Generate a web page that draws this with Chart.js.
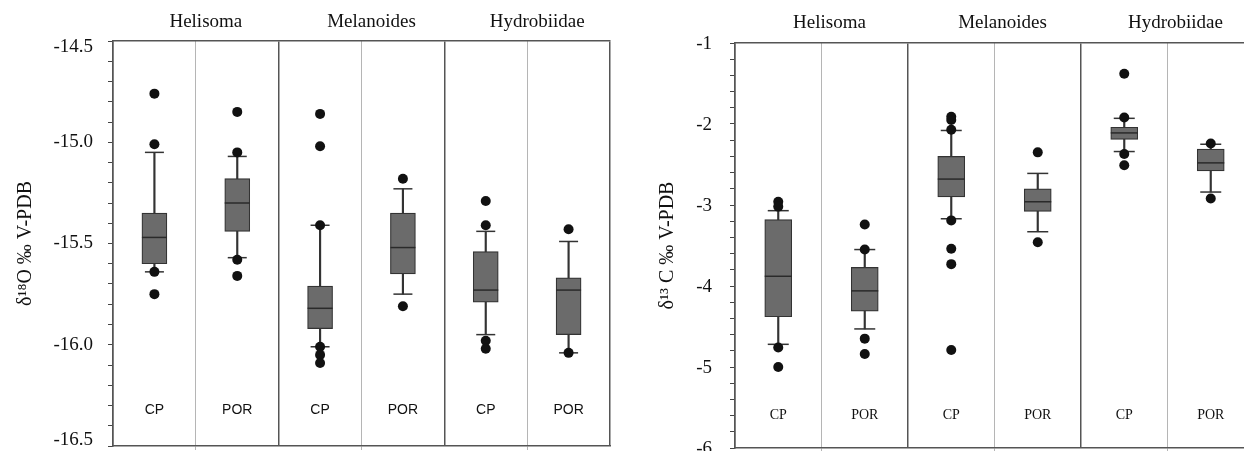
<!DOCTYPE html>
<html lang="en">
<head>
  <meta charset="UTF-8" />
  <title>Snail shell isotopes</title>
  <style>
    body {
      margin: 0;
      width: 1244px;
      height: 451px;
      overflow: hidden;
      background: white;
      position: relative;
    }
    .panel {
      position: absolute;
      top: 0;
      height: 451px;
    }
    #left { left: 0; width: 620px; }
    #right { left: 620px; width: 650px; }
  </style>
</head>
<body>
  <div class="panel" id="left"><canvas id="oxyChart"></canvas></div>
  <div class="panel" id="right"><canvas id="carbChart"></canvas></div>

  <script src="https://cdn.jsdelivr.net/npm/chart.js"></script>
  <script>
    const groups = ['Helisoma', 'Melanoides', 'Hydrobiidae'];
    const cats = ['Helisoma CP', 'Helisoma POR', 'Melanoides CP', 'Melanoides POR', 'Hydrobiidae CP', 'Hydrobiidae POR'];
    const sites = ['CP', 'POR', 'CP', 'POR', 'CP', 'POR'];

    // d18O panel
    const o18Low = [-15.64, -15.57, -16.01, -15.75, -15.95, -16.04];
    const o18Q1 = [-15.60, -15.44, -15.92, -15.65, -15.79, -15.95];
    const o18Median = [-15.47, -15.30, -15.82, -15.52, -15.73, -15.73];
    const o18Q3 = [-15.35, -15.18, -15.71, -15.35, -15.54, -15.67];
    const o18High = [-15.05, -15.07, -15.41, -15.23, -15.44, -15.49];
    const o18Outliers = [
      [-14.76, -15.01, -15.64, -15.75],
      [-14.85, -15.05, -15.58, -15.66],
      [-14.86, -15.02, -15.41, -16.01, -16.05, -16.09],
      [-15.18, -15.81],
      [-15.29, -15.41, -15.98, -16.02],
      [-15.43, -16.04]
    ];

    // d13C panel
    const c13Low = [-4.72, -4.53, -3.17, -3.33, -2.34, -2.84];
    const c13Q1 = [-4.38, -4.31, -2.90, -3.08, -2.19, -2.58];
    const c13Median = [-3.88, -4.06, -2.68, -2.96, -2.11, -2.48];
    const c13Q3 = [-3.18, -3.77, -2.40, -2.80, -2.04, -2.31];
    const c13High = [-3.07, -3.55, -2.08, -2.61, -1.93, -2.25];
    const c13Outliers = [
      [-2.96, -3.02, -4.76, -5.00],
      [-3.24, -3.55, -4.65, -4.84],
      [-1.91, -1.95, -2.07, -3.19, -3.54, -3.73, -4.79],
      [-2.35, -3.46],
      [-1.38, -1.92, -2.37, -2.51],
      [-2.24, -2.92]
    ];

    const frameColor = '#555';
    const serif = 'Liberation Serif';

    // the scale paddings would shrink the plot area, the sizes are fixed here instead
    function noPad(s) {
      s.paddingTop = 0; s.paddingBottom = 0; s.paddingLeft = 0; s.paddingRight = 0;
    }

    function makeChart(id, cfg) {
      const points = [];
      cfg.outliers.forEach((list, i) => list.forEach(v => points.push({ x: cats[i], y: v })));

      new Chart(document.getElementById(id), {
        type: 'bar',
        data: {
          labels: cats,
          datasets: [
            {
              data: cfg.low.map((v, i) => [v, cfg.high[i]]),
              backgroundColor: '#333',
              barThickness: 1.5,
              grouped: false,
              order: 5
            },
            {
              data: cfg.q1.map((v, i) => [v, cfg.q3[i]]),
              backgroundColor: '#6b6b6b',
              borderColor: '#333',
              borderWidth: 1.2,
              borderSkipped: false,
              barThickness: cfg.boxWidth,
              grouped: false,
              order: 4
            },
            {
              type: 'line', data: cfg.median, showLine: false,
              pointStyle: 'line', pointRadius: cfg.boxWidth / 2,
              borderColor: '#2a2a2a', borderWidth: 1.5, order: 3
            },
            {
              type: 'line', data: cfg.low, showLine: false,
              pointStyle: 'line', pointRadius: cfg.capWidth / 2,
              borderColor: '#333', borderWidth: 1.5, order: 3
            },
            {
              type: 'line', data: cfg.high, showLine: false,
              pointStyle: 'line', pointRadius: cfg.capWidth / 2,
              borderColor: '#333', borderWidth: 1.5, order: 3
            },
            {
              type: 'line', data: points, showLine: false,
              pointStyle: 'circle', pointRadius: 5,
              backgroundColor: '#111', borderWidth: 0, order: 1
            }
          ]
        },
        options: {
          responsive: true,
          maintainAspectRatio: false,
          animation: false,
          layout: { autoPadding: false, padding: { right: cfg.padRight } },
          plugins: { legend: { display: false }, tooltip: { enabled: false } },
          scales: {
            x: {
              position: 'bottom',
              offset: true,
              grid: {
                offset: true,
                color: ctx => ctx.index % 2 === 1 ? '#b5b5b5' : 'rgba(0,0,0,0)',
                lineWidth: 1,
                tickLength: 4
              },
              border: { color: frameColor, width: 1.5 },
              ticks: {
                autoSkip: false,
                mirror: true,   // draws the site names inside the frame
                maxRotation: 0,
                padding: cfg.sitePad,
                color: '#111',
                font: cfg.siteFont,
                callback: (v, i) => sites[i]
              },
              afterFit: s => { noPad(s); s.height = cfg.bottomH; }
            },
            x2: {
              type: 'category',
              position: 'top',
              labels: groups,
              offset: true,
              grid: { offset: true, color: frameColor, lineWidth: 1.5, drawTicks: false },
              border: { color: frameColor, width: 1.5 },
              ticks: {
                padding: cfg.groupPad,
                labelOffset: cfg.groupShift,
                color: '#111',
                font: { family: serif, size: 19 }
              },
              afterFit: s => { noPad(s); s.height = cfg.topH; }
            },
            y: {
              min: cfg.min,
              max: cfg.max,
              grid: { drawOnChartArea: false, color: '#444', tickLength: 5 },
              border: { color: frameColor, width: 1.5 },
              ticks: {
                stepSize: cfg.step,
                autoSkip: false,
                padding: cfg.tickPad,
                labelOffset: cfg.labelShift,
                color: '#111',
                font: { family: serif, size: 19, lineHeight: 0.6 },
                callback: cfg.fmt
              },
              title: {
                display: true,
                text: cfg.title,
                color: '#111',
                font: { family: serif, size: 20 },
                padding: { top: cfg.titlePad, bottom: 0 }
              },
              afterFit: s => { noPad(s); s.width = cfg.axisW; }
            }
          }
        }
      });
    }

    makeChart('oxyChart', {
      low: o18Low, q1: o18Q1, median: o18Median, q3: o18Q3, high: o18High, outliers: o18Outliers,
      min: -16.5, max: -14.5, step: 0.1,
      fmt: (v, i, ticks) => {
        const r = Math.round(v * 10) / 10;
        if (Math.abs(r * 2 - Math.round(r * 2)) > 1e-6) return '';
        const txt = r.toFixed(1);
        // end labels are pulled inside the frame
        if (i === 0) return [txt, ''];
        if (i === ticks.length - 1) return ['', txt];
        return txt;
      },
      title: 'δ¹⁸O ‰ V-PDB',
      boxWidth: 25, capWidth: 19, labelShift: 0,
      axisW: 113, topH: 41, bottomH: 5, padRight: 10,
      tickPad: 15, titlePad: 14, groupPad: 8, groupShift: 10, sitePad: 27,
      siteFont: { family: 'Liberation Sans', size: 14 }
    });

    makeChart('carbChart', {
      low: c13Low, q1: c13Q1, median: c13Median, q3: c13Q3, high: c13High, outliers: c13Outliers,
      min: -6, max: -1, step: 0.2,
      fmt: v => {
        const r = Math.round(v * 10) / 10;
        return Math.abs(r - Math.round(r)) < 1e-6 ? String(Math.round(r)) : '';
      },
      title: 'δ¹³ C ‰ V-PDB',
      boxWidth: 27, capWidth: 21, labelShift: 1,
      axisW: 115, topH: 43, bottomH: 3, padRight: 16,
      tickPad: 18, titlePad: 36, groupPad: 9, groupShift: 8, sitePad: 24,
      siteFont: { family: serif, size: 14 }
    });
  </script>
</body>
</html>
